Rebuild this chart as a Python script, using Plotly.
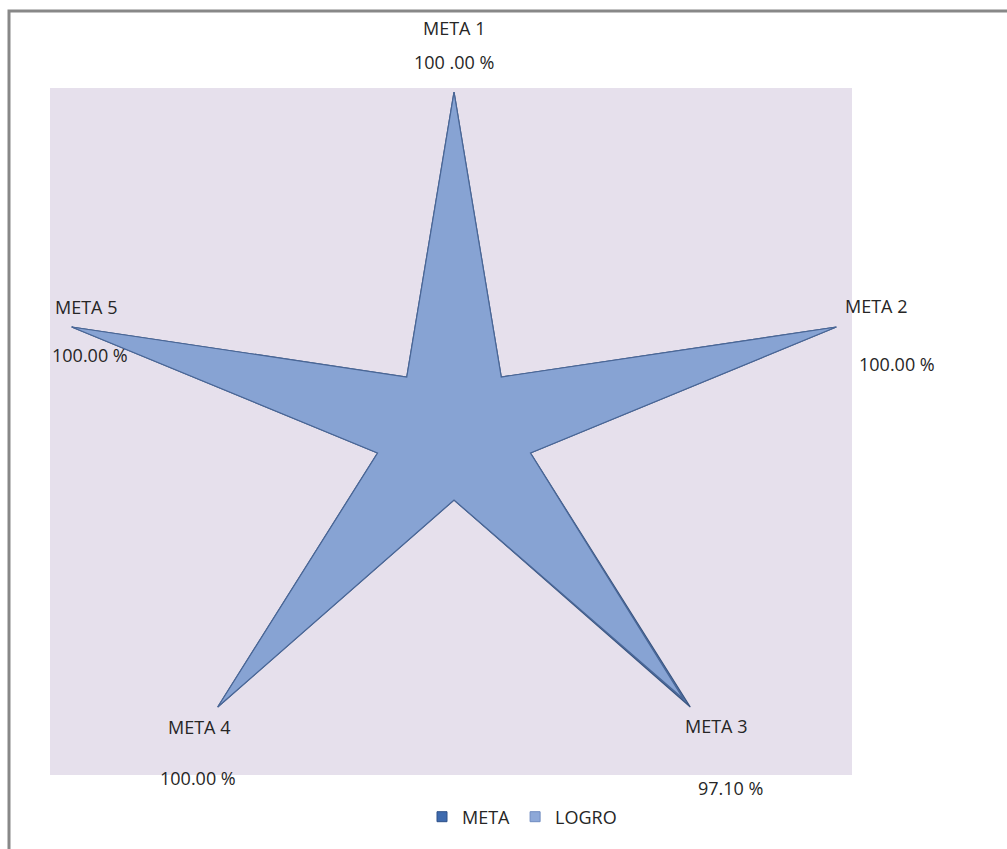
import math
import plotly.graph_objects as go

# ---- data ----
categories = ["META 1", "META 2", "META 3", "META 4", "META 5"]
meta_values = [100, 100, 100, 100, 100]
logro_values = [100, 100, 97.1, 100, 100]
value_labels = ["100 .00 %", "100.00 %", "97.10 %", "100.00 %", "100.00 %"]
inner_values = [20, 20, 20, 20, 20]   # radius of the star's inner vertices


def star_xy(outer, inner):
    xs, ys = [], []
    n = len(outer)
    for i in range(n):
        a = math.radians(360 * i / n)
        xs.append(outer[i] * math.sin(a))
        ys.append(outer[i] * math.cos(a))
        b = math.radians(360 * (i + 0.5) / n)
        xs.append(inner[i] * math.sin(b))
        ys.append(inner[i] * math.cos(b))
    xs.append(xs[0])
    ys.append(ys[0])
    return xs, ys


fig = go.Figure()

mx, my = star_xy(meta_values, inner_values)
fig.add_trace(go.Scatter(x=mx, y=my, mode="lines", fill="toself",
                         fillcolor="#4F72A8", line=dict(color="#3A5580", width=1.2),
                         showlegend=False, hoverinfo="skip"))
lx, ly = star_xy(logro_values, inner_values)
fig.add_trace(go.Scatter(x=lx, y=ly, mode="lines", fill="toself",
                         fillcolor="#87A3D3", line=dict(color="#4A6797", width=1.2),
                         showlegend=False, hoverinfo="skip"))

# legend entries
fig.add_trace(go.Scatter(x=[None], y=[None], mode="markers", name="META",
                         marker=dict(symbol="square", size=10, color="#3E6AAE",
                                     line=dict(color="#2E5088", width=1))))
fig.add_trace(go.Scatter(x=[None], y=[None], mode="markers", name="LOGRO",
                         marker=dict(symbol="square", size=10, color="#8DA8D8",
                                     line=dict(color="#6F8CC0", width=1))))

# label positions in pixels (center), converted to paper coords
L, R, T, B = 50, 852, 88, 775
W, H = R - L, B - T


def px2paper(px, py):
    return (px - L) / W, (B - py) / H


cat_pos = [(454, 28), (876, 306), (716, 726), (199, 727), (86, 307)]
val_pos = [(454, 62), (897, 364), (730, 788), (198, 778), (90, 355)]
font = dict(family="Open Sans, Lato, sans-serif", size=18, color="#262626")
annotations = []
for name, lab, cp, vp in zip(categories, value_labels, cat_pos, val_pos):
    x, y = px2paper(*cp)
    annotations.append(dict(x=x, y=y, xref="paper", yref="paper", text=name,
                            showarrow=False, font=font, xanchor="center", yanchor="middle"))
    x, y = px2paper(*vp)
    annotations.append(dict(x=x, y=y, xref="paper", yref="paper", text=lab,
                            showarrow=False, font=font, xanchor="center", yanchor="middle"))

bx0, by0 = px2paper(9, 11)
bx1, by1 = px2paper(1100, 950)

fig.update_layout(
    width=1007, height=849,
    margin=dict(l=L, r=1007 - R, t=T, b=849 - B),
    paper_bgcolor="white",
    plot_bgcolor="#E6E0EC",
    xaxis=dict(range=[-100.5, 99.0], visible=False, fixedrange=True),
    yaxis=dict(range=[-100.9, 101.2], visible=False, fixedrange=True),
    annotations=annotations,
    shapes=[dict(type="rect", xref="paper", yref="paper", x0=bx0, y0=by1, x1=bx1, y1=by0,
                 line=dict(color="#888888", width=3), layer="below")],
    legend=dict(orientation="h", x=px2paper(522, 0)[0], xanchor="center",
                y=px2paper(0, 817)[1], yanchor="middle", font=font,
                bgcolor="rgba(0,0,0,0)", itemwidth=30, tracegroupgap=0),
    showlegend=True,
)

fig.write_html("out.html")
